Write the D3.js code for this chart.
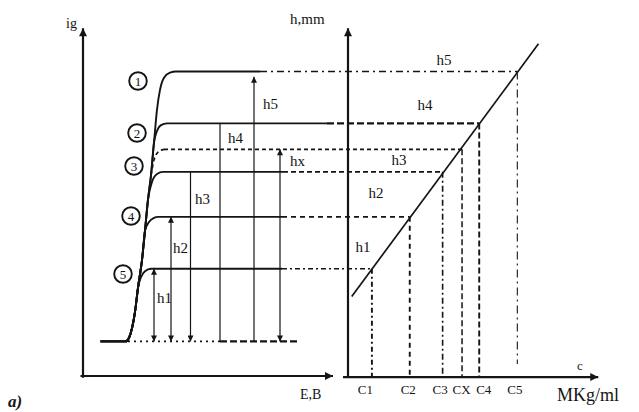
<!DOCTYPE html>
<html>
<head>
<meta charset="utf-8">
<script src="https://cdn.jsdelivr.net/npm/d3@7/dist/d3.min.js"></script>
<style>
  html, body { margin: 0; padding: 0; background: #fff; }
  text { font-family: "Liberation Serif", "Times New Roman", serif; fill: #141414; }
</style>
</head>
<body>
<svg id="chart" width="639" height="412"></svg>
<script>
// ---- Polarograms (E, ig), arbitrary units ----
const baselineLevel = 1.0;
const waveNames = ["1", "2", "3", "4", "5"];
const waveLevels = [8.8, 7.3, 5.9, 4.6, 3.1];          // limiting current of each standard
const unknownLevel = 6.55;

// common rising part of the waves
const trunk = [
  [0.7, 1.0], [1.7, 1.0], [1.85, 1.12], [1.96, 1.38], [2.08, 1.85], [2.2, 2.55],
  [2.36, 3.35], [2.48, 4.2], [2.6, 5.1], [2.72, 5.8], [2.84, 6.75], [2.96, 7.7],
  [3.08, 8.27], [3.24, 8.62], [3.48, 8.77], [3.72, 8.8], [7.08, 8.8]
];
// where each wave leaves the common part, and its own knee and plateau
const branchFromE = [99, 2.84, 2.6, 2.48, 2.2];
const branches = [
  [],
  [[2.96, 7.08], [3.12, 7.25], [3.36, 7.3], [9.76, 7.3]],
  [[2.76, 5.61], [2.96, 5.84], [3.2, 5.9], [8.0, 5.9]],
  [[2.64, 4.45], [2.84, 4.57], [3.0, 4.6], [7.96, 4.6]],
  [[2.32, 2.86], [2.48, 3.03], [2.72, 3.1], [7.96, 3.1]]
];
const unknownCurve = [[2.72, 5.8], [2.84, 6.24], [3.0, 6.47], [3.24, 6.55]];

// wave heights measured from the residual current line
const heightArrowE = [2.84, 3.52, 4.3, 5.48, 6.84];   // h1..h5
const heightArrowTop = [3.1, 4.6, 5.9, 7.3, 8.65];
const unknownArrowE = 7.88;
const residualDotted = [1.8, 5.48];
const residualDashed = [5.48, 8.56];

// ---- Calibration graph h = f(c) ----
const concLabels = ["C1", "C2", "C3", "CX", "C4", "C5"];
const concValues = [0.96, 2.48, 3.8, 4.58, 5.27, 6.8];
const heightValues = [3.1, 4.6, 5.9, 6.55, 7.3, 8.8];
const calibLine = [[0.15, 2.3], [7.65, 9.6]];

// ---------------------------------------------------------------
const svg = d3.select("#chart");
const xE = d3.scaleLinear().domain([0, 10]).range([83, 333]);
const xC = d3.scaleLinear().domain([0, 10]).range([348, 597]);
const y = d3.scaleLinear().domain([0, 10]).range([376, 30]);
const ink = "#141414";

// arrowheads
const defs = svg.append("defs");
function marker(id, w, h) {
  defs.append("marker")
    .attr("id", id).attr("markerUnits", "userSpaceOnUse")
    .attr("viewBox", "0 0 10 10").attr("refX", 10).attr("refY", 5)
    .attr("markerWidth", w).attr("markerHeight", h)
    .attr("orient", "auto-start-reverse")
    .append("path").attr("d", "M0,0 L10,5 L0,10 Z").attr("fill", ink);
}
marker("axisArrow", 11, 8);
marker("hArrow", 8, 6);

function hline(x1, x2, yy, dash, w) {
  svg.append("line").attr("x1", x1).attr("x2", x2).attr("y1", yy).attr("y2", yy)
    .attr("stroke", ink).attr("stroke-width", w)
    .attr("stroke-dasharray", dash);
}
function vline(x, y1, y2, dash, w) {
  return svg.append("line").attr("x1", x).attr("x2", x).attr("y1", y1).attr("y2", y2)
    .attr("stroke", ink).attr("stroke-width", w)
    .attr("stroke-dasharray", dash);
}

// ---- axes ----
svg.append("line").attr("x1", xE(0)).attr("y1", y(-0.05)).attr("x2", xE(0)).attr("y2", y(10.05))
  .attr("stroke", ink).attr("stroke-width", 2.2).attr("marker-end", "url(#axisArrow)");
svg.append("line").attr("x1", xE(-0.1)).attr("y1", y(0)).attr("x2", xE(10)).attr("y2", y(0))
  .attr("stroke", ink).attr("stroke-width", 2.2).attr("marker-end", "url(#axisArrow)");
svg.append("line").attr("x1", xC(0)).attr("y1", y(-0.06)).attr("x2", xC(0)).attr("y2", y(10.05))
  .attr("stroke", ink).attr("stroke-width", 2.2).attr("marker-end", "url(#axisArrow)");
svg.append("line").attr("x1", xC(-0.2)).attr("y1", y(-0.03)).attr("x2", xC(10.05)).attr("y2", y(-0.03))
  .attr("stroke", ink).attr("stroke-width", 2.2).attr("marker-end", "url(#axisArrow)");

svg.append("text").attr("x", 66).attr("y", 28).attr("font-size", 14).text("ig");
svg.append("text").attr("x", 300).attr("y", 399).attr("font-size", 14).text("E,B");
svg.append("text").attr("x", 290).attr("y", 24).attr("font-size", 15).text("h,mm");
svg.append("text").attr("x", 577).attr("y", 370).attr("font-size", 13).text("c");
svg.append("text").attr("x", 557).attr("y", 401).attr("font-size", 18).text("MKg/ml");
svg.append("text").attr("x", 8).attr("y", 407).attr("font-size", 17)
  .attr("font-weight", "bold").attr("font-style", "italic").text("a)");

// concentration tick labels
const axisC = d3.axisBottom(xC).tickValues(concValues)
  .tickFormat((d, i) => concLabels[i]).tickSize(0).tickPadding(8);
const gAx = svg.append("g").attr("transform", `translate(0,${y(-0.03)})`).call(axisC);
gAx.select(".domain").remove();
gAx.selectAll("text").attr("font-family", "Liberation Serif, serif").attr("font-size", 13)
  .attr("fill", ink).attr("dx", (d, i) => [-7, -2, -3, -1, 4, -3][i]);

// ---- polarographic waves ----
const waveLine = d3.line().x(d => xE(d[0])).y(d => y(d[1])).curve(d3.curveMonotoneX);
const wavePoints = waveNames.map((n, i) =>
  i === 0 ? trunk : trunk.filter(p => p[0] <= branchFromE[i]).concat(branches[i]));

svg.selectAll("path.wave").data(wavePoints).join("path").attr("class", "wave")
  .attr("d", waveLine).attr("fill", "none").attr("stroke", ink).attr("stroke-width", 1.9);
svg.append("path").attr("d", waveLine(unknownCurve)).attr("fill", "none")
  .attr("stroke", ink).attr("stroke-width", 1.6).attr("stroke-dasharray", "4,3");

// residual current line
hline(xE(residualDotted[0]), xE(residualDotted[1]), y(baselineLevel), "2,4", 1.7);
hline(xE(residualDashed[0]), xE(residualDashed[1]), y(baselineLevel), "7,3", 2.3);

// projections of each plateau to the calibration line
const stdIndex = [5, 4, 2, 1, 0];           // wave i -> standard on the calibration graph
const extDash = ["7,4,2,4", "7,3", "5,3", "5,4", "5,3,2,3"];
const extWidth = [1.4, 2.2, 1.6, 1.6, 1.6];
wavePoints.forEach((pts, i) => {
  const last = pts[pts.length - 1];
  hline(xE(last[0]), xC(concValues[stdIndex[i]]), y(waveLevels[i]), extDash[i], extWidth[i]);
});
hline(xE(unknownCurve[unknownCurve.length - 1][0]), xC(concValues[3]), y(unknownLevel), "4,3", 1.6);

// circled wave numbers
const circlePos = [[138, 81], [137, 133], [134, 166], [131, 216], [123, 274]];
waveNames.forEach((n, i) => {
  const [cx, cy] = circlePos[i];
  svg.append("circle").attr("cx", cx).attr("cy", cy).attr("r", 8.8)
    .attr("fill", "#fff").attr("stroke", ink).attr("stroke-width", 1.9);
  svg.append("text").attr("x", cx).attr("y", cy + 4.5).attr("text-anchor", "middle")
    .attr("font-size", 13).text(n);
});

// wave height arrows
heightArrowE.forEach((e, i) => {
  const l = vline(xE(e), y(heightArrowTop[i]), y(baselineLevel), null, 1.2);
  if (i <= 2) l.attr("marker-end", "url(#hArrow)");
  if (i <= 1 || i === 4) l.attr("marker-start", "url(#hArrow)");
});
vline(xE(unknownArrowE), y(unknownLevel), y(baselineLevel), null, 1.2)
  .attr("marker-start", "url(#hArrow)").attr("marker-end", "url(#hArrow)");

const hLab = [[157, 303], [173, 253], [195, 204], [228, 143], [263, 109]];
hLab.forEach((p, i) => svg.append("text").attr("x", p[0]).attr("y", p[1])
  .attr("font-size", 15).text("h" + (i + 1)));
svg.append("text").attr("x", 290).attr("y", 166).attr("font-size", 15).text("hx");

// ---- calibration graph ----
svg.append("line")
  .attr("x1", xC(calibLine[0][0])).attr("y1", y(calibLine[0][1]))
  .attr("x2", xC(calibLine[1][0])).attr("y2", y(calibLine[1][1]))
  .attr("stroke", ink).attr("stroke-width", 1.7);

const dropDash = ["5,3,2,3", "5,4", "6,3,2,3", "6,3", "6,3", "8,4,2,4"];
const dropWidth = [1.9, 1.9, 1.6, 1.5, 1.9, 1.1];
concValues.forEach((c, i) => {
  const bottom = i === 5 ? y(0.35) : y(0);
  vline(xC(c), y(heightValues[i]), bottom, dropDash[i], dropWidth[i]);
});

const rLab = [[363, 252, "h1"], [376, 198, "h2"], [399, 165, "h3"], [425, 110, "h4"], [444, 65, "h5"]];
rLab.forEach(p => svg.append("text").attr("x", p[0]).attr("y", p[1])
  .attr("text-anchor", "middle").attr("font-size", 15).text(p[2]));
</script>
</body>
</html>
